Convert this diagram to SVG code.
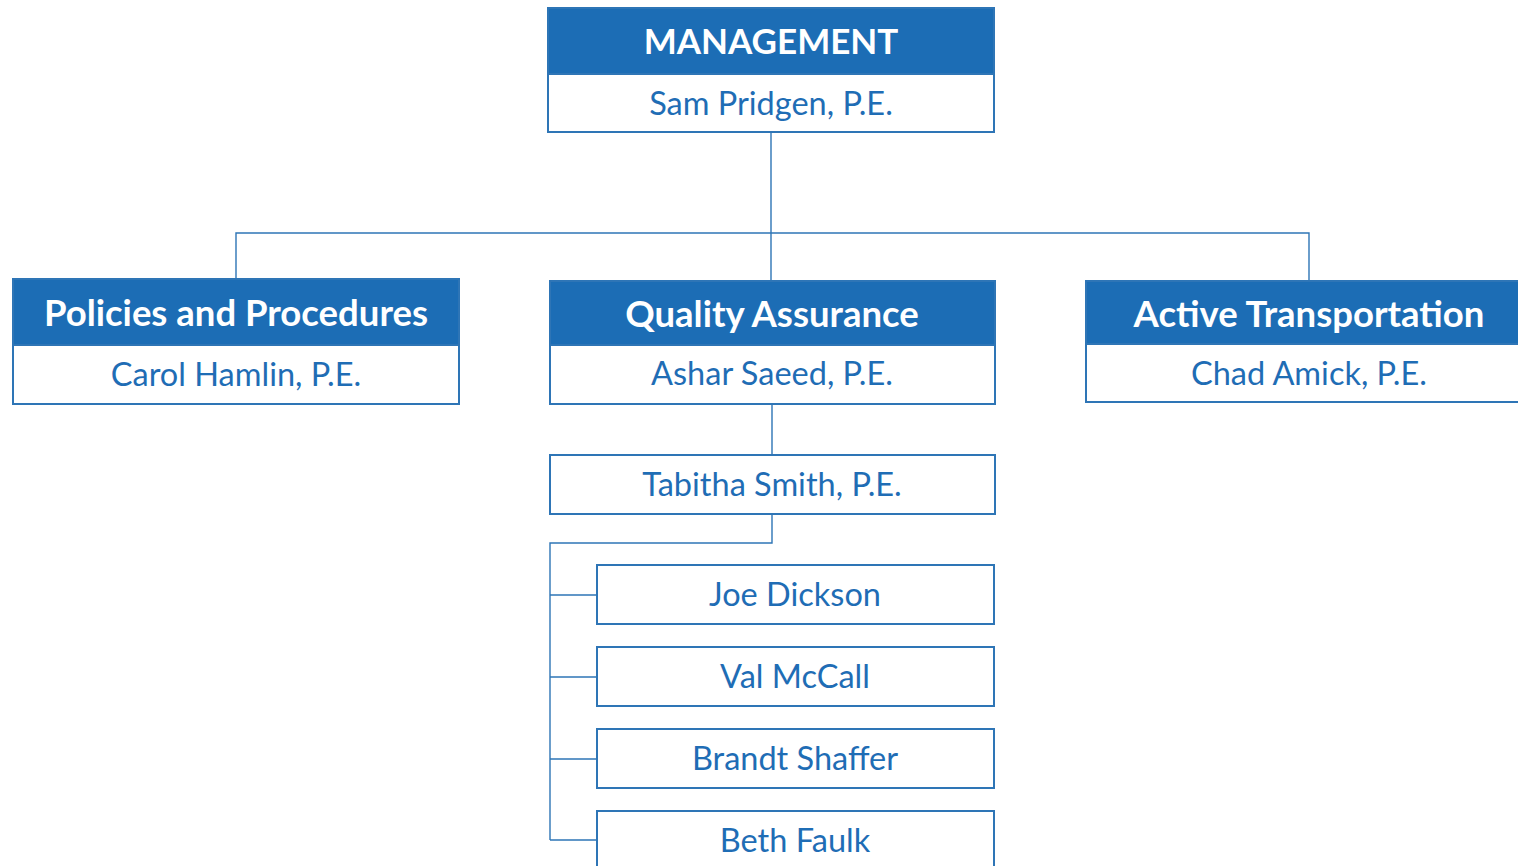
<svg xmlns="http://www.w3.org/2000/svg" width="1518" height="866" viewBox="0 0 1518 866">
<style>
.hdr{fill:#1c6db5;stroke:#2e75b6;stroke-width:2}
.box{fill:#ffffff;stroke:#2e75b6;stroke-width:2}
.ht{font-family:Lato,"Liberation Sans",sans-serif;font-weight:bold;font-size:36.5px;fill:#ffffff;text-anchor:middle}
.nt{font-family:Lato,"Liberation Sans",sans-serif;font-size:32.5px;fill:#1f6db5;text-anchor:middle}
.con{fill:none;stroke:#2e75b6;stroke-width:1.4}
</style>
<rect width="1518" height="866" fill="#ffffff"/>
<g id="connectors">
<path class="con" d="M771 132 V280 M236 279 V233 H1309 V281"/>
<path class="con" d="M772 404 V455 M772 514 V543 H550 V840 M550 595 H597 M550 677 H597 M550 759 H597 M550 840 H597"/>
</g>
<g id="management">
<rect class="hdr" x="548" y="8" width="446" height="66"/>
<rect class="box" x="548" y="74" width="446" height="58"/>
<text class="ht" x="771" y="54" style="font-size:35px">MANAGEMENT</text>
<text class="nt" x="771" y="115">Sam Pridgen, P.E.</text>
</g>
<g id="policies">
<rect class="hdr" x="13" y="279" width="446" height="66"/>
<rect class="box" x="13" y="345" width="446" height="59"/>
<text class="ht" x="236" y="326">Policies and Procedures</text>
<text class="nt" x="236" y="386">Carol Hamlin, P.E.</text>
</g>
<g id="quality">
<rect class="hdr" x="550" y="281" width="445" height="64"/>
<rect class="box" x="550" y="345" width="445" height="59"/>
<text class="ht" x="772" y="327">Quality Assurance</text>
<text class="nt" x="772" y="385">Ashar Saeed, P.E.</text>
</g>
<g id="active">
<rect class="hdr" x="1086" y="281" width="440" height="63"/>
<rect class="box" x="1086" y="344" width="440" height="58"/>
<text class="ht" x="1309" y="327">Active Transportation</text>
<text class="nt" x="1309" y="385">Chad Amick, P.E.</text>
</g>
<g id="tabitha">
<rect class="box" x="550" y="455" width="445" height="59"/>
<text class="nt" x="772" y="496">Tabitha Smith, P.E.</text>
</g>
<g id="joe">
<rect class="box" x="597" y="565" width="397" height="59"/>
<text class="nt" x="795" y="606">Joe Dickson</text>
</g>
<g id="val">
<rect class="box" x="597" y="647" width="397" height="59"/>
<text class="nt" x="795" y="688">Val McCall</text>
</g>
<g id="brandt">
<rect class="box" x="597" y="729" width="397" height="59"/>
<text class="nt" x="795" y="770">Brandt Shaffer</text>
</g>
<g id="beth">
<rect class="box" x="597" y="811" width="397" height="70"/>
<text class="nt" x="795" y="852">Beth Faulk</text>
</g>
</svg>
